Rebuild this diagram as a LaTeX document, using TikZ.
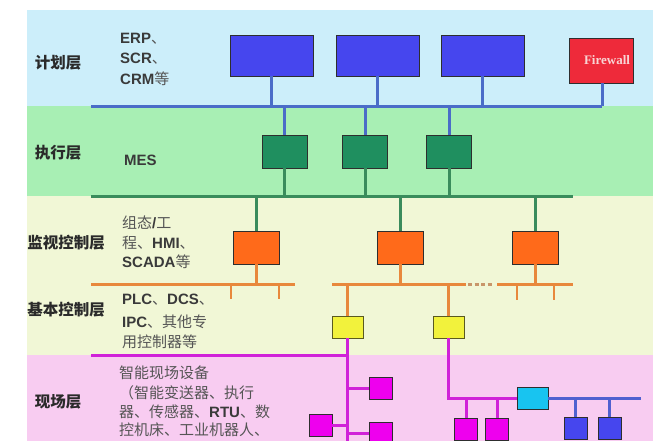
\documentclass[tikz,border=0pt]{standalone}
\usepackage{fontspec}
\setmainfont{Liberation Sans}
\newfontfamily\cjk{Noto Sans CJK SC}
\newfontfamily\fwfont{Liberation Serif}
\definecolor{bandblue}{HTML}{CCEEFA}
\definecolor{bandgreen}{HTML}{A8EFB4}
\definecolor{bandcream}{HTML}{F1F7D6}
\definecolor{bandpink}{HTML}{F8CCF1}
\definecolor{bluefill}{HTML}{4646EE}
\definecolor{blueline}{HTML}{4A6CC8}
\definecolor{greenfill}{HTML}{1F8F5F}
\definecolor{greenline}{HTML}{3A8C5C}
\definecolor{orangefill}{HTML}{FF6A1A}
\definecolor{orangeline}{HTML}{E8883C}
\definecolor{dashline}{HTML}{C8966A}
\definecolor{yellowfill}{HTML}{F2F23C}
\definecolor{yellowborder}{HTML}{5A5A20}
\definecolor{magfill}{HTML}{EE00EE}
\definecolor{magline}{HTML}{D022D8}
\definecolor{cyanfill}{HTML}{18C4F0}
\definecolor{violetline}{HTML}{5060D0}
\definecolor{fwfill}{HTML}{EE2A3A}
\definecolor{fwtext}{HTML}{F8D4D4}
\definecolor{boxborder}{HTML}{2E2E2E}
\definecolor{labeltext}{HTML}{2A2A2A}
\definecolor{desctext}{HTML}{3A3A3A}
\definecolor{cjkdesc}{HTML}{555555}
\newcommand{\cj}[1]{{\cjk\mdseries\color{cjkdesc}#1}}
\begin{document}
\begin{tikzpicture}[x=1pt,y=-1pt,
  box/.style={draw=boxborder,line width=0.9pt,inner sep=0pt},
  bluebox/.style={box,fill=bluefill,minimum width=83pt,minimum height=41pt},
  fwbox/.style={box,fill=fwfill,minimum width=64pt,minimum height=45pt},
  greenbox/.style={box,fill=greenfill,minimum width=45pt,minimum height=33pt},
  orangebox/.style={box,fill=orangefill,minimum width=46pt,minimum height=33pt},
  yellowbox/.style={box,draw=yellowborder,fill=yellowfill,minimum width=31pt,minimum height=22pt},
  magbox/.style={box,fill=magfill,minimum width=23pt,minimum height=22pt},
  cyanbox/.style={box,fill=cyanfill,minimum width=31pt,minimum height=22pt},
  vbox/.style={box,fill=bluefill,minimum width=23pt,minimum height=22pt},
  bluebus/.style={draw=blueline,line width=3pt},
  greenbus/.style={draw=greenline,line width=3pt},
  orangebus/.style={draw=orangeline,line width=3pt},
  magbus/.style={draw=magline,line width=3pt},
  violetbus/.style={draw=violetline,line width=3pt},
  layer/.style={text=labeltext,font=\fontsize{15.5}{18}\selectfont\cjk\bfseries,inner sep=0pt},
  desc/.style={text=desctext,font=\fontsize{15}{18}\selectfont\bfseries,anchor=west,inner sep=0pt}
]
\clip (0,0) rectangle (661,440);
\fill[white] (0,0) rectangle (661,440);
% bands
\fill[bandblue] (27,10) rectangle (653,106);
\fill[bandgreen] (27,106) rectangle (653,196);
\fill[bandcream] (27,196) rectangle (653,355);
\fill[bandpink] (27,355) rectangle (653,441);

% layer labels
\node[layer] (L1) at (58,63) {计划层};
\node[layer] (L2) at (58,153) {执行层};
\node[layer] (L3) at (66,243) {监视控制层};
\node[layer] (L4) at (66,310) {基本控制层};
\node[layer] (L5) at (58,402) {现场层};

% descriptions
\node[desc] (d11) at (120,39) {ERP\cj{、}};
\node[desc] (d12) at (120,59) {SCR\cj{、}};
\node[desc] (d13) at (120,79) {CRM\cj{等}};
\node[desc] (d21) at (124,160) {MES};
\node[desc] (d31) at (122,223) {\cj{组态}/\cj{工}};
\node[desc] (d32) at (122,243) {\cj{程、}HMI\cj{、}};
\node[desc] (d33) at (122,262) {SCADA\cj{等}};
\node[desc] (d41) at (122,300) {PLC\cj{、}DCS\cj{、}};
\node[desc] (d42) at (122,322) {IPC\cj{、其他专}};
\node[desc] (d43) at (122,342) {\cj{用控制器等}};
\node[desc] (d51) at (119,373) {\cj{智能现场设备}};
\node[desc] (d52) at (119,393) {\cj{（智能变送器、执行}};
\node[desc] (d53) at (119,412) {\cj{器、传感器、}RTU\cj{、数}};
\node[desc] (d54) at (119,430) {\cj{控机床、工业机器人、}};

% bus coordinates
\coordinate (bbL) at (91,106);
\coordinate (bbR) at (602,106);
\coordinate (gbL) at (91,196);
\coordinate (gbR) at (573,196);
\coordinate (obL) at (91,284);
\coordinate (obM) at (295,284);
\coordinate (ob2L) at (332,284);
\coordinate (ob2a) at (466,284);
\coordinate (ob2b) at (497,284);
\coordinate (ob2R) at (573,284);
\coordinate (mbL) at (91,355);
\coordinate (vbR) at (641,398);

% planning layer
\node[bluebox] (p1) at (271.5,55.5) {};
\node[bluebox] (p2) at (377.5,55.5) {};
\node[bluebox] (p3) at (482.5,55.5) {};
\node[fwbox] (fw) at (601,60.5) {};
\node[font=\fontsize{13}{15}\selectfont\fwfont\bfseries,text=fwtext,inner sep=0pt] (fwt) at (607,60) {Firewall};
\draw[bluebus] (bbL) -- (bbR);
\foreach \n in {p1,p2,p3} \draw[bluebus] (\n.south) -- (\n.south |- bbL);
\draw[bluebus] (fw.south -| bbR) -- (bbR);

% execution layer
\node[greenbox] (g1) at (284.5,151.5) {};
\node[greenbox] (g2) at (365,151.5) {};
\node[greenbox] (g3) at (449,151.5) {};
\foreach \n in {g1,g2,g3} \draw[bluebus] (\n.north) -- (\n.north |- bbL);
\draw[greenbus] (gbL) -- (gbR);
\foreach \n in {g1,g2,g3} \draw[greenbus] (\n.south) -- (\n.south |- gbL);

% supervisory layer
\node[orangebox] (o1) at (256,247.5) {};
\node[orangebox] (o2) at (400,247.5) {};
\node[orangebox] (o3) at (535.5,247.5) {};
\foreach \n in {o1,o2,o3} \draw[greenbus] (\n.north) -- (\n.north |- gbL);
\draw[orangebus] (obL) -- (obM);
\draw[orangebus] (ob2L) -- (ob2a);
\draw[draw=dashline,line width=3pt,dash pattern=on 0pt off 2pt on 4pt off 2.5pt on 4pt off 2.5pt on 4pt off 2.5pt on 4pt off 10pt] (ob2a) -- (ob2b);
\draw[orangebus] (ob2b) -- (ob2R);
\foreach \n in {o1,o2,o3} \draw[orangebus] (\n.south) -- (\n.south |- obL);
\coordinate (t1a) at (231,284); \coordinate (t1b) at (231,299);
\coordinate (t2a) at (279,284); \coordinate (t2b) at (279,299);
\coordinate (t3a) at (517,284); \coordinate (t3b) at (517,300);
\coordinate (t4a) at (554,284); \coordinate (t4b) at (554,300);
\draw[orangebus,line width=2.4pt] (t1a) -- (t1b);
\draw[orangebus,line width=2.4pt] (t2a) -- (t2b);
\draw[orangebus,line width=2.4pt] (t3a) -- (t3b);
\draw[orangebus,line width=2.4pt] (t4a) -- (t4b);

% basic control layer
\node[yellowbox] (y1) at (347.5,327) {};
\node[yellowbox] (y2) at (448.5,327) {};
\foreach \n in {y1,y2} \draw[orangebus] (\n.north) -- (\n.north |- obL);

% field layer
\coordinate (m1bot) at (347.5,446);
\draw[magbus] (y1.south) -- (m1bot);
\draw[magbus] (mbL) -- (mbL -| y1.south);
\node[magbox] (ma) at (381,388) {};
\node[magbox] (mb) at (381,433) {};
\node[magbox] (mc) at (320.5,425) {};
\draw[magbus] (ma.west) -- (ma.west -| y1.south);
\draw[magbus] (mb.west) -- (mb.west -| y1.south);
\draw[magbus] (mc.east) -- (mc.east -| y1.south);

\node[cyanbox] (cy) at (532.5,398) {};
\draw[magbus] (y2.south) |- (cy.west);
\draw[violetbus] (cy.east) -- (vbR);
\node[magbox] (md) at (466,429) {};
\node[magbox] (me) at (497,429) {};
\draw[magbus] (md.north) -- (md.north |- cy.west);
\draw[magbus] (me.north) -- (me.north |- cy.west);
\node[vbox] (va) at (575.5,428) {};
\node[vbox] (vb) at (609.5,428) {};
\draw[violetbus] (va.north) -- (va.north |- vbR);
\draw[violetbus] (vb.north) -- (vb.north |- vbR);
\end{tikzpicture}
\end{document}
